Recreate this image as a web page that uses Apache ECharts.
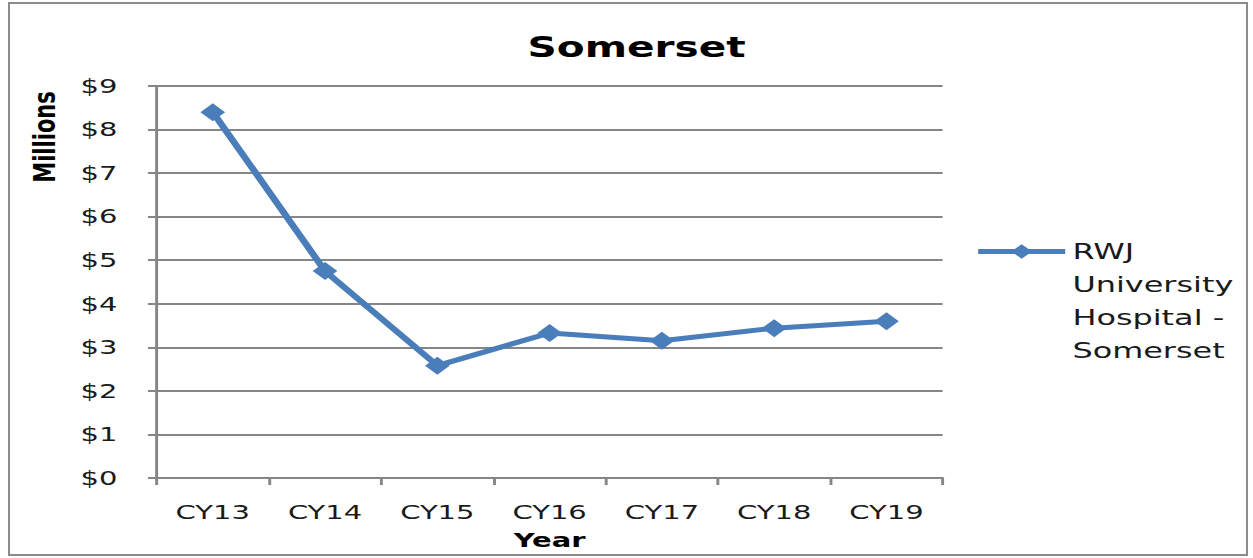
<!DOCTYPE html>
<html>
<head>
<meta charset="utf-8">
<script src="https://cdn.jsdelivr.net/npm/echarts@6/dist/echarts.min.js"></script>
<style>
  html, body { margin: 0; padding: 0; background: #fff; overflow: hidden; }
  .frame {
    position: absolute; left: 8px; top: 2px; width: 1236px; height: 550px;
    border: 2px solid #8c8c8c;
  }
  /* the reference is an Excel chart stretched sideways, so draw narrow and widen */
  .chart {
    position: absolute; left: 0; top: 0; width: 864px; height: 558px;
    transform: scaleX(1.4502); transform-origin: 0 0;
  }
</style>
</head>
<body>
<div class="frame"></div>
<div class="chart" id="chart"></div>
<script>
const categories = ['CY13', 'CY14', 'CY15', 'CY16', 'CY17', 'CY18', 'CY19']
const somerset = [8.4, 4.75, 2.58, 3.33, 3.15, 3.44, 3.6]
const seriesName = 'RWJ University Hospital - Somerset'

const LINE_COL = '#4a7ebb'
const GRID_COL = '#868686'
const TEXT_COL = '#1a1a1a'
const FONT = 'DejaVu Sans'

const chart = echarts.init(document.getElementById('chart'), null, { renderer: 'svg' })

chart.setOption({
  animation: false,
  title: {
    text: 'Somerset',
    left: 434, top: 28, textAlign: 'center',
    textStyle: { fontFamily: FONT, fontSize: 28, fontWeight: 'bold', color: '#000' },
  },
  grid: { left: 108, right: 214, top: 86, bottom: 80, containLabel: false, outerBoundsMode: 'none' },
  legend: {
    left: 672, top: 136, padding: 0,
    itemWidth: 60, itemHeight: 18, itemGap: 5,
    // blank lines on top keep the first line level with the legend icon
    formatter: () => '\n\n\nRWJ\nUniversity\nHospital -\nSomerset',
    lineStyle: { width: 5 },
    textStyle: { fontFamily: FONT, fontSize: 22, color: TEXT_COL, lineHeight: 33 },
  },
  xAxis: {
    type: 'category',
    data: categories,
    name: 'Year',
    nameLocation: 'middle',
    nameGap: 52,
    nameTextStyle: { fontFamily: FONT, fontSize: 20, fontWeight: 'bold', color: '#000' },
    axisLine: { lineStyle: { color: GRID_COL, width: 2 } },
    axisTick: { show: true, length: 7, lineStyle: { color: GRID_COL, width: 2 } },
    axisLabel: { fontFamily: FONT, fontSize: 20, color: TEXT_COL, margin: 24 },
  },
  yAxis: {
    type: 'value',
    min: 0, max: 9, interval: 1,
    axisLine: { show: true, lineStyle: { color: GRID_COL, width: 2 } },
    axisTick: { show: true, length: 6, lineStyle: { color: GRID_COL, width: 2 } },
    splitLine: { lineStyle: { color: GRID_COL, width: 2 } },
    axisLabel: {
      fontFamily: FONT, fontSize: 20, color: TEXT_COL, margin: 27,
      formatter: (v) => '$' + v,
    },
  },
  graphic: [{
    type: 'text',
    x: 31, y: 137, rotation: Math.PI / 2,
    style: {
      text: 'Millions', fontFamily: FONT, fontSize: 21, fontWeight: 'bold',
      fill: '#000', align: 'center', verticalAlign: 'middle',
    },
  }],
  series: [{
    name: seriesName,
    type: 'line',
    data: somerset,
    symbol: 'diamond',
    symbolSize: [17, 18],
    lineStyle: { color: LINE_COL, width: 5 },
    itemStyle: { color: LINE_COL },
  }],
})
</script>
</body>
</html>
